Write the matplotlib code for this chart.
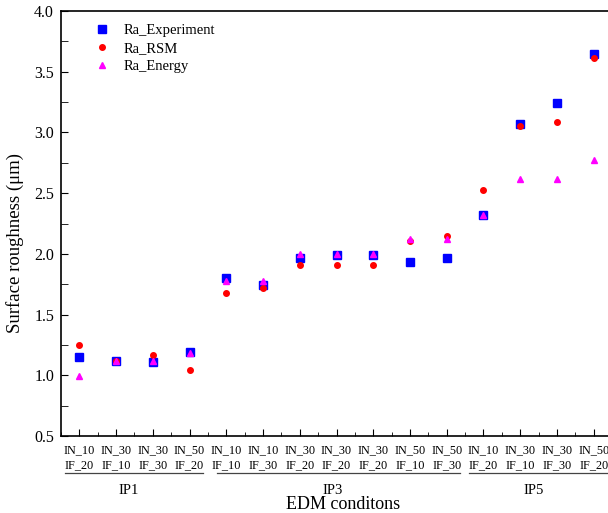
import matplotlib
matplotlib.use('Agg')
import matplotlib.pyplot as plt
from matplotlib.ticker import MultipleLocator
from matplotlib.transforms import blended_transform_factory

plt.rcParams['font.family'] = ['Liberation Serif', 'DejaVu Serif']

# EDM conditions
in_vals = ['10', '30', '30', '50', '10', '10', '30', '30', '30', '50', '50', '10', '30', '30', '50']
if_vals = ['20', '10', '30', '20', '10', '30', '20', '20', '20', '10', '30', '20', '10', '30', '20']
groups = ['IP1', 'IP3', 'IP5']

ra_exp = [1.15, 1.12, 1.11, 1.19, 1.80, 1.74, 1.97, 1.99, 1.99, 1.93, 1.97, 2.32, 3.07, 3.24, 3.65]
ra_rsm = [1.25, 1.12, 1.17, 1.04, 1.68, 1.72, 1.91, 1.91, 1.91, 2.11, 2.15, 2.53, 3.05, 3.09, 3.61]
ra_energy = [0.99, 1.12, 1.12, 1.18, 1.78, 1.78, 2.00, 2.00, 2.00, 2.12, 2.12, 2.32, 2.62, 2.62, 2.77]

x = list(range(1, len(in_vals) + 1))
ticklabels = ['IN_%s\nIF_%s' % (a, b) for a, b in zip(in_vals, if_vals)]

fig = plt.figure(figsize=(6.08, 5.13), dpi=100)
ax = fig.add_axes([61 / 608, 1 - 436 / 513, 551 / 608, 425 / 513])

ax.plot(x, ra_exp, 's', color='#0000ff', ms=5.2, label='Ra_Experiment', zorder=3)
ax.plot(x, ra_rsm, 'o', color='#ff0000', ms=4, label='Ra_RSM', zorder=4)
ax.plot(x, ra_energy, '^', color='#ff00ff', ms=4.5, label='Ra_Energy', zorder=5)

ax.set_xlim(0.5, 15.5)
ax.set_ylim(0.5, 4.0)
ax.set_xticks(x)
ax.set_xticklabels(ticklabels, fontsize=8.8, linespacing=1.3)
ax.xaxis.set_minor_locator(MultipleLocator(0.5))
ax.yaxis.set_major_locator(MultipleLocator(0.5))
ax.yaxis.set_minor_locator(MultipleLocator(0.25))
ax.tick_params(which='both', direction='in', top=False, right=False)
ax.tick_params(axis='x', which='major', length=5, pad=6)
ax.tick_params(axis='x', which='minor', length=3)
ax.tick_params(axis='y', which='major', length=5, labelsize=11.5, pad=5)
ax.tick_params(axis='y', which='minor', length=5)
for s in ax.spines.values():
    s.set_linewidth(1.2)

ax.set_ylabel('Surface roughness (\u03bcm)', fontsize=13.5)
ax.yaxis.set_label_coords(-0.068, 0.455)
ax.set_xlabel('EDM conditons', fontsize=13)
ax.xaxis.set_label_coords(0.512, -0.141)

# group brackets under the tick labels
tr = blended_transform_factory(ax.transData, ax.transAxes)
line_spans = [(0.61, 4.37), (4.75, 11.36), (11.62, 15.6)]
label_x = [2.33, 7.9, 13.38]
for g, (a, b), lx in zip(groups, line_spans, label_x):
    ax.plot([a, b], [-0.088, -0.088], color='#444444', lw=0.9, transform=tr, clip_on=False)
    ax.text(lx, -0.128, g, transform=tr, ha='center', va='center', fontsize=10.5)

ax.legend(loc='upper left', bbox_to_anchor=(0.061, 0.97), frameon=False, fontsize=10.5,
          borderpad=0, handlelength=1.0, handletextpad=1.0, labelspacing=0.34,
          borderaxespad=0)

fig.savefig('out.png', dpi=100)
